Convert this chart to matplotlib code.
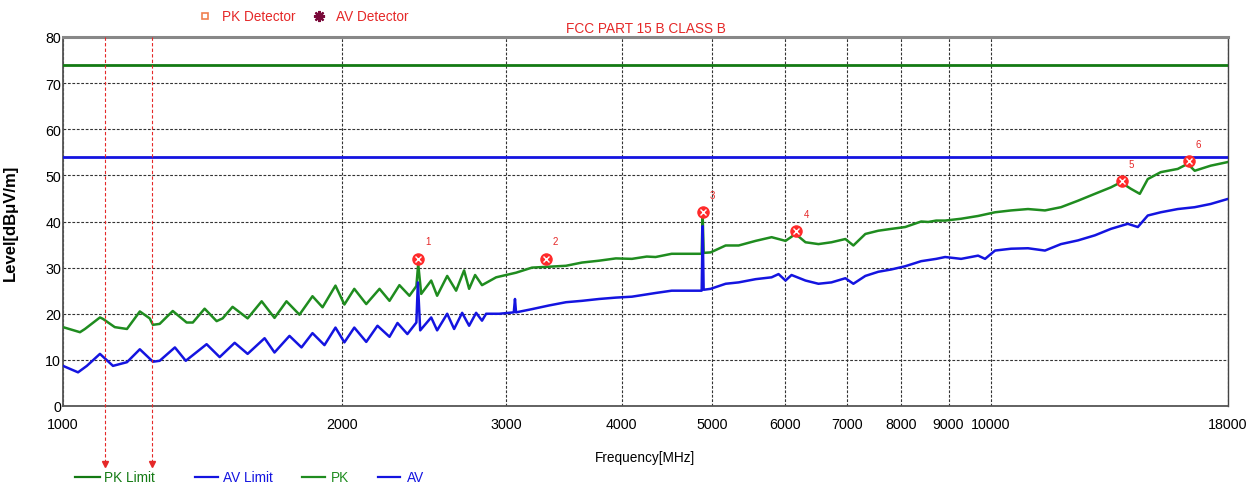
import matplotlib
matplotlib.use('Agg')
import matplotlib.pyplot as plt
from matplotlib.lines import Line2D

# ---------------- data ----------------
pk_freq = [1000, 1043, 1056, 1096, 1104, 1137, 1172, 1210, 1240, 1250, 1271, 1313, 1359, 1380,
           1421, 1464, 1486, 1523, 1581, 1637, 1690, 1741, 1798, 1857, 1904, 1966, 2010, 2060,
           2122, 2193, 2248, 2304, 2362, 2403, 2414, 2432, 2493, 2530, 2594, 2652, 2705, 2739,
           2780, 2828, 2929, 3077, 3201, 3340, 3483, 3624, 3780, 3942, 4102, 4256, 4350, 4527,
           4722, 4877, 4889, 4901, 4986, 5176, 5346, 5576, 5801, 6005, 6156, 6310, 6516, 6730,
           6966, 7106, 7320, 7559, 7806, 8081, 8408, 8556, 8728, 8923, 9284, 9683, 10099, 10508,
           10959, 11430, 11893, 12404, 12937, 13460, 13798, 14143, 14462, 14752, 15234, 15890,
           16286, 16573, 17242, 18000]
pk_level = [17.1, 16.0, 16.7, 19.2, 18.9, 17.1, 16.7, 20.5, 19.0, 17.6, 17.8, 20.6, 18.1, 18.1,
            21.1, 18.4, 19.0, 21.5, 19.0, 22.7, 19.1, 22.7, 19.8, 23.8, 21.4, 26.1, 22.0, 25.4,
            22.1, 25.4, 22.8, 26.2, 23.9, 26.0, 30.8, 24.3, 27.2, 23.9, 28.2, 25.0, 29.4, 25.4,
            28.4, 26.2, 27.9, 28.9, 30.0, 30.2, 30.4, 31.1, 31.5, 32.0, 31.9, 32.4, 32.3, 33.0,
            33.0, 33.0, 41.6, 33.2, 33.3, 34.8, 34.8, 35.8, 36.6, 35.8, 37.3, 35.5, 35.1, 35.5,
            36.2, 34.8, 37.3, 38.0, 38.4, 38.8, 40.0, 39.9, 40.2, 40.2, 40.6, 41.2, 42.0, 42.4,
            42.7, 42.4, 43.1, 44.5, 46.0, 47.4, 48.5, 47.1, 46.0, 49.2, 50.7, 51.4,
            52.5, 51.0, 52.1, 52.9]

av_freq = [1000, 1038, 1061, 1096, 1132, 1172, 1210, 1250, 1271, 1320, 1356, 1428, 1475, 1531,
           1581, 1649, 1690, 1754, 1807, 1857, 1913, 1966, 2010, 2060, 2122, 2182, 2248, 2293,
           2350, 2403, 2412, 2426, 2493, 2530, 2594, 2639, 2692, 2739, 2787, 2828, 2857, 2951,
           3060, 3069, 3077, 3201, 3340, 3483, 3624, 3780, 3942, 4102, 4256, 4350, 4527, 4722,
           4877, 4889, 4901, 4986, 5176, 5346, 5576, 5801, 5902, 6005, 6095, 6310, 6516, 6730,
           6966, 7106, 7320, 7559, 7806, 8081, 8408, 8728, 8923, 9284, 9683, 9852, 10099, 10508,
           10959, 11430, 11893, 12404, 12937, 13460, 14039, 14391, 14752, 15234, 15890, 16573,
           17242, 18000]
av_level = [8.7, 7.3, 8.7, 11.3, 8.7, 9.5, 12.3, 9.6, 9.8, 12.7, 9.8, 13.4, 10.6, 13.7,
            11.3, 14.7, 11.6, 15.2, 12.7, 15.8, 13.2, 17.0, 13.8, 17.0, 13.9, 17.4, 15.0, 18.0,
            15.6, 18.1, 26.8, 16.4, 19.2, 16.4, 20.0, 16.7, 20.2, 17.4, 20.2, 18.5, 20.0, 20.0,
            20.3, 23.2, 20.3, 21.0, 21.8, 22.5, 22.8, 23.2, 23.5, 23.7, 24.2, 24.5, 25.0, 25.0,
            25.0, 39.0, 25.2, 25.4, 26.5, 26.8, 27.5, 27.9, 28.6, 27.2, 28.4, 27.2, 26.5, 26.8,
            27.7, 26.5, 28.2, 29.1, 29.6, 30.3, 31.4, 31.9, 32.3, 31.9, 32.6, 31.9, 33.7, 34.1,
            34.2, 33.7, 35.1, 35.9, 37.0, 38.4, 39.5, 38.8, 41.3, 42.0, 42.7, 43.1,
            43.8, 44.9]

pk_limit = 74
av_limit = 54

marker_freq = [2414, 3313, 4889, 6170, 13840, 16320]
marker_level = [31.9, 31.9, 42.0, 37.9, 48.7, 53.1]
marker_labels = ['1', '2', '3', '4', '5', '6']

cursor_freq = [1109, 1246]

x_ticks = [1000, 2000, 3000, 4000, 5000, 6000, 7000, 8000, 9000, 10000, 18000]
x_tick_labels = ['1000', '2000', '3000', '4000', '5000', '6000', '7000', '8000', '9000', '10000', '18000']
y_ticks = [0, 10, 20, 30, 40, 50, 60, 70, 80]

legend_labels = ['PK Limit', 'AV Limit', 'PK', 'AV']

# ---------------- style ----------------
FONT = ['Liberation Sans', 'DejaVu Sans']
plt.rcParams['font.family'] = FONT
FS = 9.8
GREEN_LIM = '#137a13'
GREEN = '#1f8c1f'
BLUE = '#1414e0'
RED = '#e52828'

W, H = 1257, 489
fig = plt.figure(figsize=(W / 100, H / 100), dpi=100)
ax = fig.add_axes([63 / W, 82 / H, 1165 / W, 369 / H])

ax.set_xscale('log')
ax.set_xlim(1000, 18000)
ax.set_ylim(0, 80)

# limits
ax.axhline(pk_limit, color=GREEN_LIM, lw=2, zorder=3)
ax.axhline(av_limit, color=BLUE, lw=2, zorder=3)

# traces
ax.plot(pk_freq, pk_level, color=GREEN, lw=1.8, zorder=4)
ax.plot(av_freq, av_level, color=BLUE, lw=1.8, zorder=4)

# markers
ax.plot(marker_freq, marker_level, 'o', ms=8, mfc='#ff2a2a', mec='#ff2a2a', zorder=6)
ax.plot(marker_freq, marker_level, 'x', ms=4.5, mec='white', mew=1.0, zorder=7)
for f, l, t in zip(marker_freq, marker_level, marker_labels):
    ax.annotate(t, (f, l), xytext=(5, 9), textcoords='offset points', color=RED,
                fontsize=7, ha='left', va='bottom')

# cursors
for f in cursor_freq:
    ax.plot([f, f], [80, -12.4], color=RED, lw=0.8, ls=(0, (3, 2)), clip_on=False, zorder=5)
    ax.plot([f], [-12.6], marker='v', ms=4, color=RED, clip_on=False, zorder=5)

# ticks
ax.set_xticks(x_ticks)
ax.set_xticklabels(x_tick_labels)
ax.xaxis.set_minor_locator(plt.NullLocator())
ax.set_yticks(y_ticks)
ax.tick_params(axis='x', length=0, pad=8, labelsize=FS + 0.5, colors='black')
ax.tick_params(axis='y', length=0, pad=1.5, labelsize=FS + 0.5, colors='black')

ax.grid(True, which='major', color='#333333', lw=0.8, ls=(0, (2.5, 1.5)))
ax.set_axisbelow(True)

for side in ['left', 'bottom']:
    ax.spines[side].set_color('#555555')
    ax.spines[side].set_linewidth(1.3)
ax.spines['top'].set_color('#888888')
ax.spines['top'].set_linewidth(2.2)
ax.spines['right'].set_color('#444444')
ax.spines['right'].set_linewidth(1.0)

ax.set_xlabel('Frequency[MHz]', fontsize=FS)
ax.xaxis.set_label_coords(0.5, (407 - 451) / 369)
ax.set_ylabel('Level[dBμV/m]', fontsize=12, fontweight='bold')
ax.yaxis.set_label_coords((18 - 63) / 1165, 0.5)

# title
fig.text(645.5 / W, (H - 29) / H, 'FCC PART 15 B CLASS B', color=RED, fontsize=FS,
         ha='center', va='center')

# top legend (detectors)
yt = (H - 17) / H
fig.add_artist(Line2D([205 / W], [yt], marker='s', ms=5, mfc='none', mec='#f08050', mew=1.2, ls='none'))
fig.text(222 / W, yt, 'PK Detector', color=RED, fontsize=FS, va='center', ha='left')
fig.add_artist(Line2D([319 / W], [yt], marker=(8, 2, 0), ms=8, color='#7a0a3a', mew=1.6, ls='none'))
fig.text(336 / W, yt, 'AV Detector', color=RED, fontsize=FS, va='center', ha='left')

# bottom legend
yb = (H - 478) / H
leg_lines = [(75, 100, 104), (195, 218, 223), (302, 325, 331), (378, 400, 407)]
leg_colors = [GREEN_LIM, BLUE, GREEN, BLUE]
for (x0, x1, xt), lab, c in zip(leg_lines, legend_labels, leg_colors):
    fig.add_artist(Line2D([x0 / W, x1 / W], [yb, yb], color=c, lw=1.6))
    fig.text(xt / W, yb, lab, color=c, fontsize=FS, va='center', ha='left')

fig.savefig('out.png', dpi=100)
